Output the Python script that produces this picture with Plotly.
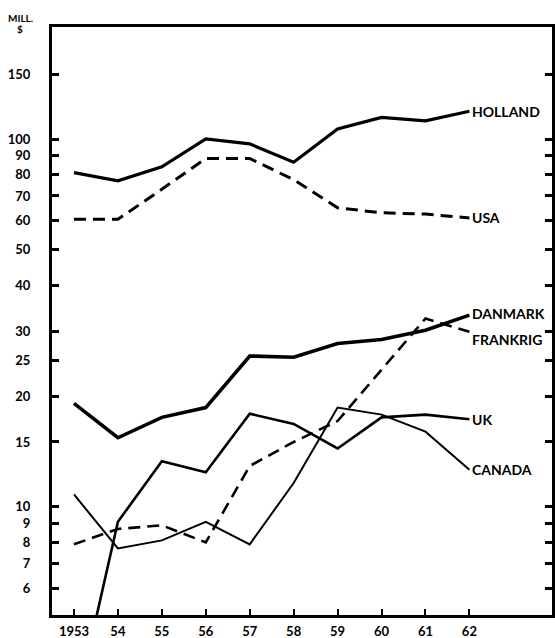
import math
import plotly.graph_objects as go

years = [1953, 1954, 1955, 1956, 1957, 1958, 1959, 1960, 1961, 1962]
year_labels = ["1953", "54", "55", "56", "57", "58", "59", "60", "61", "62"]

holland = [81, 77, 84, 100, 97, 86.5, 106.5, 114.5, 112, 119]
usa = [60.5, 60.5, 73, 88.5, 88.5, 77.5, 65, 63, 62.5, 61]
danmark = [19.1, 15.4, 17.5, 18.6, 25.7, 25.5, 27.8, 28.5, 30.2, 33.2]
frankrig = [7.9, 8.7, 8.9, 8.0, 12.9, 15.0, 17.1, 23.5, 32.5, 29.9]
uk = [2.7, 9.1, 13.3, 12.4, 17.9, 16.8, 14.4, 17.5, 17.8, 17.3]
canada = [10.8, 7.7, 8.1, 9.1, 7.9, 11.6, 18.6, 17.8, 16.0, 12.6]

y_ticks = [6, 7, 8, 9, 10, 15, 20, 25, 30, 40, 50, 60, 70, 80, 90, 100, 150]

series = [
    ("HOLLAND", holland, 3.2, "solid", 0),
    ("USA", usa, 3.0, "12px,7px", 0),
    ("DANMARK", danmark, 3.6, "solid", 2),
    ("FRANKRIG", frankrig, 2.6, "12px,7px", -8),
    ("UK", uk, 2.6, "solid", 0),
    ("CANADA", canada, 2.0, "solid", 0),
]

FONT = "Lato"

fig = go.Figure()
for name, vals, w, dash, _ in series:
    fig.add_trace(go.Scatter(
        x=years, y=vals, mode="lines", name=name,
        line=dict(color="black", width=w, dash=dash),
        showlegend=False, hoverinfo="skip",
    ))

annotations = []
for name, vals, w, dash, ysh in series:
    annotations.append(dict(
        x=years[-1], y=math.log10(vals[-1]), xref="x", yref="y",
        text=name, showarrow=False, xanchor="left", yanchor="middle",
        xshift=1, yshift=ysh,
        font=dict(family=FONT, size=14, color="black", weight="bold"),
    ))

annotations.append(dict(
    x=-0.064, y=1.0, xref="paper", yref="paper", text="MILL.",
    showarrow=False, xanchor="center", yanchor="middle", yshift=9,
    font=dict(family=FONT, size=10, color="black", weight="bold"),
))
annotations.append(dict(
    x=-0.064, y=1.0, xref="paper", yref="paper", text="$",
    showarrow=False, xanchor="center", yanchor="middle", yshift=-2,
    font=dict(family=FONT, size=10, color="black", weight="bold"),
))

fig.update_layout(
    width=555, height=638,
    margin=dict(l=52, r=3, t=27, b=23, autoexpand=False),
    paper_bgcolor="white", plot_bgcolor="white",
    annotations=annotations,
    font=dict(family=FONT, color="black"),
)

fig.update_xaxes(
    range=[1952.5, 1963.88], automargin=False,
    tickvals=years, ticktext=year_labels,
    ticks="inside", ticklen=6, tickwidth=2, tickcolor="black",
    showline=True, linecolor="black", linewidth=3, mirror=True,
    showgrid=False, zeroline=False,
    tickfont=dict(family=FONT, size=13, color="black", weight="bold"),
    ticklabelstandoff=2,
)
fig.update_yaxes(
    type="log", range=[0.7055, 2.3046], automargin=False,
    tickvals=y_ticks, ticktext=[str(v) for v in y_ticks],
    ticks="inside", ticklen=7, tickwidth=2.5, tickcolor="black",
    showline=True, linecolor="black", linewidth=3, mirror="ticks",
    showgrid=False, zeroline=False,
    tickfont=dict(family=FONT, size=13, color="black", weight="bold"),
    ticklabelstandoff=16,
)

fig.write_html(
    "out.html",
    config={"displayModeBar": False},
    post_script="document.body.style.margin='0';document.body.style.overflow='hidden';",
)
